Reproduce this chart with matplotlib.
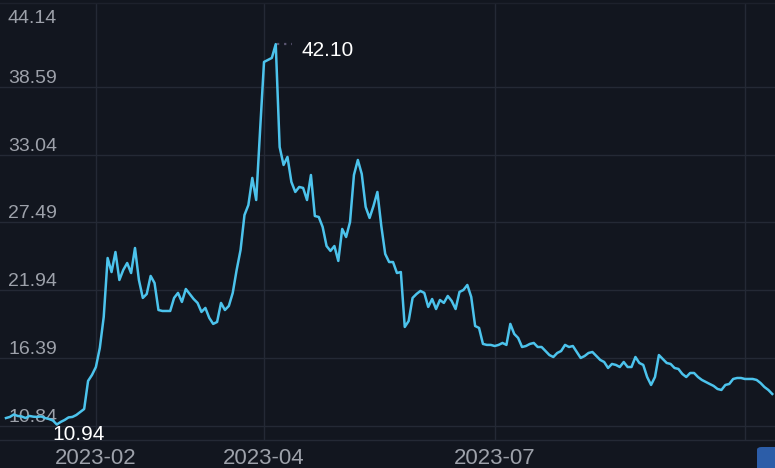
import numpy as np
import pandas as pd
import matplotlib
matplotlib.use("Agg")
import matplotlib.pyplot as plt
import matplotlib.transforms as mtransforms
from matplotlib.patches import FancyBboxPatch

plt.rcParams['font.family'] = ['Liberation Sans', 'DejaVu Sans']

# ---- data -------------------------------------------------------------
start_date = "2022-12-22"
end_date = "2023-10-18"
holidays = ["2023-01-02", "2023-01-23", "2023-01-24", "2023-01-25", "2023-01-26",
            "2023-01-27", "2023-04-05", "2023-05-01", "2023-05-02", "2023-05-03",
            "2023-06-22", "2023-06-23", "2023-09-29", "2023-10-02", "2023-10-03",
            "2023-10-04", "2023-10-05", "2023-10-06"]

values = [
    11.47, 11.56, 11.76, 11.64, 11.60, 11.47, 11.64, 11.58, 11.56, 11.60,
    11.47, 11.39, 11.27, 10.94, 11.15, 11.31, 11.52, 11.56, 11.72, 11.97,
    12.21, 14.51, 15.00, 15.65, 17.21, 19.75, 24.58, 23.43, 25.07, 22.78,
    23.60, 24.17, 23.35, 25.40, 22.78, 21.31, 21.63, 23.11, 22.53, 20.32,
    20.24, 20.24, 20.24, 21.31, 21.72, 20.98, 22.04, 21.63, 21.22, 20.90,
    20.16, 20.49, 19.67, 19.18, 19.34, 20.90, 20.32, 20.65, 21.72, 23.60,
    25.24, 28.10, 28.92, 31.14, 29.33, 35.07, 40.64, 40.80, 40.97, 42.10,
    33.67, 32.20, 32.86, 30.81, 29.99, 30.40, 30.32, 29.33, 31.38, 28.02,
    27.94, 27.12, 25.56, 25.16, 25.56, 24.34, 26.96, 26.30, 27.53, 31.38,
    32.61, 31.46, 28.76, 27.86, 28.84, 29.99, 27.20, 24.91, 24.25, 24.25,
    23.35, 23.43, 18.93, 19.42, 21.31, 21.63, 21.88, 21.72, 20.57, 21.22,
    20.40, 21.14, 20.90, 21.47, 21.06, 20.40, 21.80, 21.96, 22.37, 21.39,
    19.01, 18.85, 17.54, 17.46, 17.46, 17.37, 17.46, 17.62, 17.46, 19.18,
    18.36, 18.03, 17.29, 17.37, 17.54, 17.62, 17.29, 17.29, 16.96, 16.63,
    16.47, 16.80, 16.96, 17.46, 17.29, 17.37, 16.88, 16.39, 16.55, 16.80,
    16.88, 16.55, 16.23, 16.06, 15.57, 15.90, 15.82, 15.65, 16.06, 15.65,
    15.65, 16.47, 15.98, 15.82, 14.83, 14.18, 14.83, 16.63, 16.31, 15.98,
    15.90, 15.57, 15.49, 15.08, 14.83, 15.16, 15.16, 14.83, 14.59, 14.42,
    14.26, 14.10, 13.85, 13.77, 14.18, 14.26, 14.67, 14.75, 14.75, 14.67,
    14.67, 14.67, 14.59, 14.34, 14.01, 13.77, 13.44,
]

y_ticks = [10.84, 16.39, 21.94, 27.49, 33.04, 38.59]
y_top_label = "44.14"
x_tick_months = ["2023-02", "2023-04", "2023-07", "2023-10"]
x_tick_labels = ["2023-02", "2023-04", "2023-07", ""]
max_label = "42.10"
min_label = "10.94"

# ---- styling ----------------------------------------------------------
BG = "#12161f"
LINE = "#4cc3ec"
GRID = "#242935"
TXT = "#9da1aa"

dates = pd.bdate_range(start_date, end_date, freq="C", holidays=holidays)
n = min(len(dates), len(values))
dates = dates[:n]
vals = np.array(values[:n])
x = np.arange(n)

W, H = 775, 468
fig = plt.figure(figsize=(W / 100, H / 100), dpi=100, facecolor=BG)
ax = fig.add_axes([0, 28 / H, 1, 437 / H], facecolor=BG)

ax.set_xlim(-1.53, 196.7)
ax.set_ylim(9.67, 45.47)

for s in ["left", "right"]:
    ax.spines[s].set_visible(False)
ax.spines["bottom"].set_color(GRID)
ax.spines["top"].set_color("#1d212c")
ax.spines["bottom"].set_linewidth(1.0)
ax.spines["top"].set_linewidth(1.0)

# grid lines
for v in y_ticks:
    ax.axhline(v, color=GRID, lw=1.0, zorder=1)

month_str = dates.strftime("%Y-%m")
tick_pos = []
for m in x_tick_months:
    idx = np.where(month_str == m)[0]
    if len(idx):
        tick_pos.append(idx[0])
for p in tick_pos:
    ax.axvline(p, color=GRID, lw=1.0, zorder=1)

ax.set_xticks(tick_pos)
ax.set_xticklabels(x_tick_labels[:len(tick_pos)], color=TXT, fontsize=16)
ax.tick_params(axis="x", length=0, pad=6)
ax.set_yticks([])

# y labels inside the plot
trans = mtransforms.blended_transform_factory(ax.transAxes, ax.transData)
for v in y_ticks:
    ax.annotate(f"{v:.2f}", xy=(8 / W, v), xycoords=trans, xytext=(0, 4),
                textcoords="offset pixels", va="baseline", ha="left",
                color=TXT, fontsize=14, zorder=2)
ax.annotate(y_top_label, xy=(8 / W, 1), xycoords="axes fraction", xytext=(0, -20),
            textcoords="offset pixels", va="baseline", ha="left",
            color=TXT, fontsize=14, zorder=2)

# series line
ax.plot(x, vals, color=LINE, lw=1.8, zorder=3, solid_joinstyle="round")

# max / min labels
imax = int(np.argmax(vals))
imin = int(np.argmin(vals))
ax.plot([imax + 0.3, imax + 4.2], [vals[imax]] * 2, color="#5b5672",
        lw=1.6, linestyle=(0, (1, 2.2)), zorder=2)
ax.annotate(max_label, xy=(imax, vals[imax]), xytext=(26, -6),
            textcoords="offset pixels", va="center", ha="left",
            color="white", fontsize=15, zorder=4)
ax.annotate(min_label, xy=(imin, vals[imin]), xytext=(-4, -1),
            textcoords="offset pixels", va="top", ha="left",
            color="white", fontsize=15, zorder=4)

# small blue button in bottom-right corner
btn = FancyBboxPatch((757 / W, -10 / H), 30 / W, 31 / H,
                     boxstyle="round,pad=0,rounding_size=0.006",
                     transform=fig.transFigure, facecolor="#2c5da8",
                     edgecolor="none", zorder=5)
fig.patches.append(btn)

fig.savefig("out.png", dpi=100, facecolor=BG)
